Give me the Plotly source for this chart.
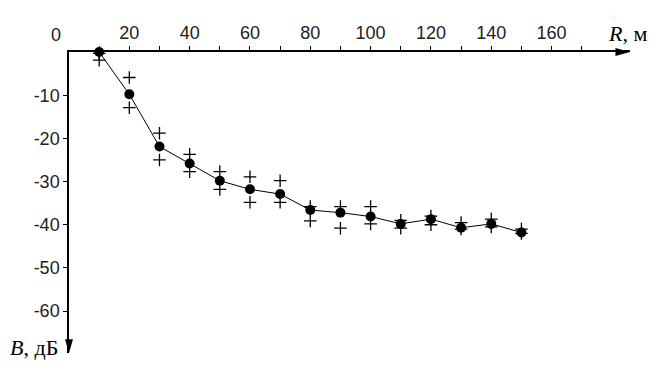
import plotly.graph_objects as go

R = [10, 20, 30, 40, 50, 60, 70, 80, 90, 100, 110, 120, 130, 140, 150]
B_mean = [0, -9.8, -21.9, -25.8, -29.8, -31.8, -32.9, -36.6, -37.2, -38.1, -39.8, -38.7, -40.7, -39.8, -41.8]
B_upper = [-0.3, -5.9, -18.8, -23.7, -27.7, -28.9, -29.8, -35.8, -35.8, -35.8, -39.0, -38.0, -39.5, -38.7, -41.0]
B_lower = [-1.9, -12.9, -25.0, -27.7, -31.8, -34.8, -34.8, -39.1, -40.8, -39.8, -40.8, -40.0, -41.0, -40.5, -42.0]

x_ticks = [10, 20, 30, 40, 50, 60, 70, 80, 90, 100, 110, 120, 130, 140, 150, 160, 170]
x_labels = ["", "20", "", "40", "", "60", "", "80", "", "100", "", "120", "", "140", "", "160", ""]
y_ticks = [-10, -20, -30, -40, -50, -60]
y_labels = ["-10", "-20", "-30", "-40", "-50", "-60"]

X_MAX = 186.0
Y_MIN = -69.7

fig = go.Figure()
fig.add_trace(go.Scatter(x=R, y=B_upper, mode="markers",
                         marker=dict(symbol="cross-thin", size=9, line=dict(color="black", width=1.3)),
                         cliponaxis=False, showlegend=False))
fig.add_trace(go.Scatter(x=R, y=B_lower, mode="markers",
                         marker=dict(symbol="cross-thin", size=9, line=dict(color="black", width=1.3)),
                         cliponaxis=False, showlegend=False))
fig.add_trace(go.Scatter(x=R, y=B_mean, mode="lines+markers",
                         line=dict(color="black", width=1),
                         marker=dict(symbol="circle", size=10, color="black"),
                         cliponaxis=False, showlegend=False))

tick_font = dict(family="Liberation Sans, Arial, sans-serif", size=18, color="#222")
title_font = dict(family="Liberation Serif, Times New Roman, serif", size=22, color="black")

fig.update_layout(
    width=659, height=369,
    margin=dict(l=61, r=37, t=44, b=24, autoexpand=False),
    paper_bgcolor="white", plot_bgcolor="white",
    xaxis=dict(range=[0, X_MAX], side="top", tickvals=x_ticks, ticktext=x_labels,
               showgrid=False, zeroline=False, showline=True, linecolor="black", linewidth=1.5,
               ticks="outside", ticklen=4, tickcolor="black", tickwidth=1,
               tickfont=tick_font, automargin=False),
    yaxis=dict(range=[Y_MIN, 0], tickvals=y_ticks, ticktext=y_labels,
               showgrid=False, zeroline=False, showline=True, linecolor="black", linewidth=1.5,
               ticks="outside", ticklen=4, tickcolor="black", tickwidth=1,
               tickfont=tick_font, automargin=False),
    shapes=[
        dict(type="path", xref="paper", yref="paper",
             path="M 1.0 1.0 L 0.974 1.0133 L 0.974 0.9867 Z",
             fillcolor="black", line=dict(color="black", width=0)),
        dict(type="path", xref="paper", yref="paper",
             path="M 0.0 0.0 L -0.0071 0.046 L 0.0071 0.046 Z",
             fillcolor="black", line=dict(color="black", width=0)),
    ],
    annotations=[
        dict(text="0", xref="paper", yref="paper", x=-0.023, y=1.0, yshift=17,
             showarrow=False, font=tick_font, xanchor="center", yanchor="middle"),
        dict(text="<i>R</i>, м", xref="paper", yref="paper", x=1.0, y=1.0, xshift=19, yshift=19,
             showarrow=False, font=title_font, xanchor="right", yanchor="middle"),
        dict(text="<i>B</i>, дБ", xref="paper", yref="paper", x=0.0, y=0.0, xshift=-9, yshift=6,
             showarrow=False, font=title_font, xanchor="right", yanchor="middle"),
    ],
)

fig.write_html("out.html")
